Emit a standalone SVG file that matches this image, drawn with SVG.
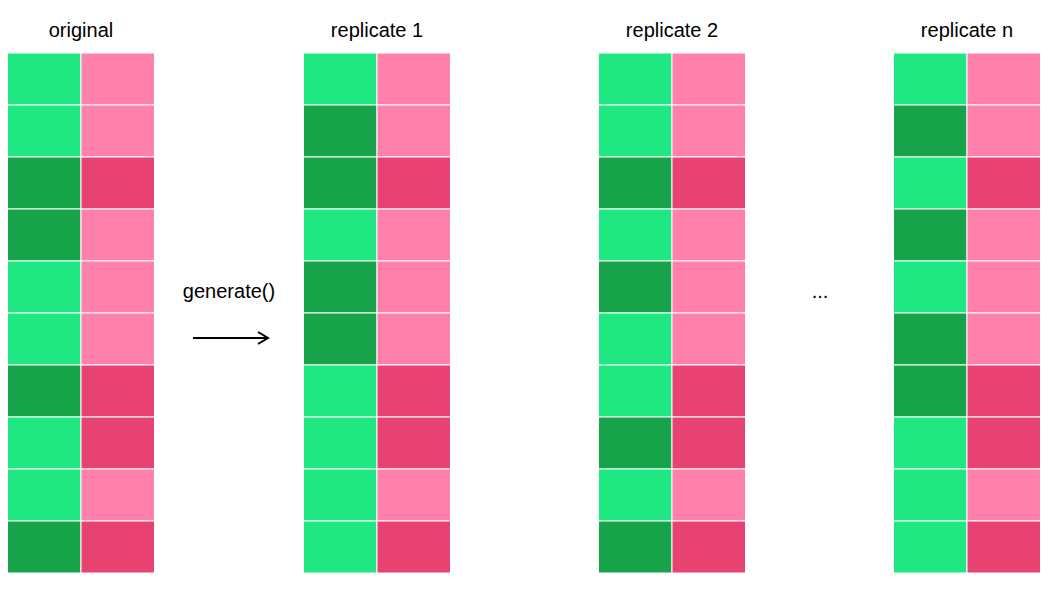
<svg xmlns="http://www.w3.org/2000/svg" width="1050" height="600" viewBox="0 0 1050 600">
<style>
text{font-family:"Liberation Sans",Arial,sans-serif;font-size:20px;fill:#000;text-anchor:middle}
rect{stroke:#fff;stroke-width:1}
.l{fill:#1FE882}.d{fill:#17A34A}.p{fill:#FF80AB}.P{fill:#E84272}
</style>
<defs>
<g id="pink">
<rect class="p" x="0" y="0" width="73.5" height="52"/>
<rect class="p" x="0" y="52" width="73.5" height="52"/>
<rect class="P" x="0" y="104" width="73.5" height="52"/>
<rect class="p" x="0" y="156" width="73.5" height="52"/>
<rect class="p" x="0" y="208" width="73.5" height="52"/>
<rect class="p" x="0" y="260" width="73.5" height="52"/>
<rect class="P" x="0" y="312" width="73.5" height="52"/>
<rect class="P" x="0" y="364" width="73.5" height="52"/>
<rect class="p" x="0" y="416" width="73.5" height="52"/>
<rect class="P" x="0" y="468" width="73.5" height="52"/>
</g>
</defs>
<g id="original">
<text x="81" y="37">original</text>
<g transform="translate(7.5,53)">
<rect class="l" y="0" width="73.5" height="52"/><rect class="l" y="52" width="73.5" height="52"/><rect class="d" y="104" width="73.5" height="52"/><rect class="d" y="156" width="73.5" height="52"/><rect class="l" y="208" width="73.5" height="52"/><rect class="l" y="260" width="73.5" height="52"/><rect class="d" y="312" width="73.5" height="52"/><rect class="l" y="364" width="73.5" height="52"/><rect class="l" y="416" width="73.5" height="52"/><rect class="d" y="468" width="73.5" height="52"/>
</g>
<use href="#pink" x="81" y="53"/>
</g>
<g id="replicate1">
<text x="377" y="37">replicate 1</text>
<g transform="translate(303.5,53)">
<rect class="l" y="0" width="73.5" height="52"/><rect class="d" y="52" width="73.5" height="52"/><rect class="d" y="104" width="73.5" height="52"/><rect class="l" y="156" width="73.5" height="52"/><rect class="d" y="208" width="73.5" height="52"/><rect class="d" y="260" width="73.5" height="52"/><rect class="l" y="312" width="73.5" height="52"/><rect class="l" y="364" width="73.5" height="52"/><rect class="l" y="416" width="73.5" height="52"/><rect class="l" y="468" width="73.5" height="52"/>
</g>
<use href="#pink" x="377" y="53"/>
</g>
<g id="replicate2">
<text x="672" y="37">replicate 2</text>
<g transform="translate(598.5,53)">
<rect class="l" y="0" width="73.5" height="52"/><rect class="l" y="52" width="73.5" height="52"/><rect class="d" y="104" width="73.5" height="52"/><rect class="l" y="156" width="73.5" height="52"/><rect class="d" y="208" width="73.5" height="52"/><rect class="l" y="260" width="73.5" height="52"/><rect class="l" y="312" width="73.5" height="52"/><rect class="d" y="364" width="73.5" height="52"/><rect class="l" y="416" width="73.5" height="52"/><rect class="d" y="468" width="73.5" height="52"/>
</g>
<use href="#pink" x="672" y="53"/>
</g>
<g id="replicaten">
<text x="967" y="37">replicate n</text>
<g transform="translate(893.5,53)">
<rect class="l" y="0" width="73.5" height="52"/><rect class="d" y="52" width="73.5" height="52"/><rect class="l" y="104" width="73.5" height="52"/><rect class="d" y="156" width="73.5" height="52"/><rect class="l" y="208" width="73.5" height="52"/><rect class="d" y="260" width="73.5" height="52"/><rect class="d" y="312" width="73.5" height="52"/><rect class="l" y="364" width="73.5" height="52"/><rect class="l" y="416" width="73.5" height="52"/><rect class="l" y="468" width="73.5" height="52"/>
</g>
<use href="#pink" x="967" y="53"/>
</g>
<g id="connectors">
<text x="229" y="298">generate()</text>
<line x1="193" y1="338" x2="267" y2="338" stroke="#000" stroke-width="2"/>
<polyline points="258,332 268,338 258,344" fill="none" stroke="#000" stroke-width="2"/>
</g>
<text x="820" y="298">...</text>
</svg>
